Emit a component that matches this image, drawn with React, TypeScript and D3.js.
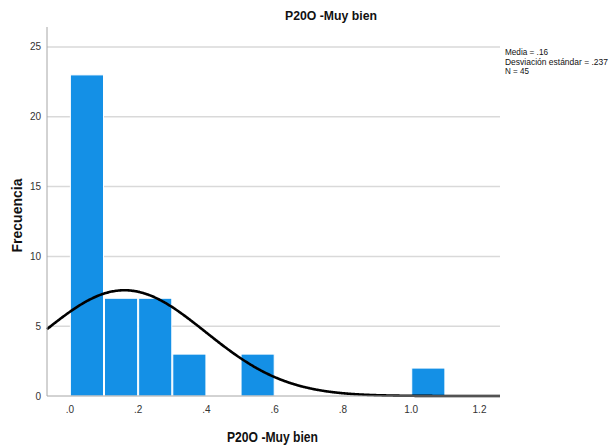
import React from "react";
import * as d3 from "d3";

const binStarts = [0.0, 0.1, 0.2, 0.3, 0.5, 1.0];
const binCounts = [23, 7, 7, 3, 3, 2];
const binWidth = 0.1;
const yTicks = [0, 5, 10, 15, 20, 25];
const xTicks = [0, 0.2, 0.4, 0.6, 0.8, 1.0, 1.2];
const xTickLabels = [".0", ".2", ".4", ".6", ".8", "1.0", "1.2"];
const statsLines = ["Media = .16", "Desviación estándar = .237", "N = 45"];
const statsWidths = [43, 103, 24];
const mean = 0.16;
const sd = 0.237;
const n = 45;

export default function App() {
  const W = 616, H = 447;
  const left = 47, right = 500, top = 27, bottom = 396;
  const x = d3.scaleLinear().domain([-0.067, 1.26]).range([left, right]);
  const y = d3.scaleLinear().domain([0, 26.43]).range([bottom, top]);
  const font = "Arial, 'Liberation Sans', sans-serif";

  const pdf = (v: number) =>
    (n * binWidth) / (sd * Math.sqrt(2 * Math.PI)) * Math.exp(-0.5 * ((v - mean) / sd) ** 2);
  const pts = d3.range(0, 401).map((i) => {
    const v = -0.067 + (i / 400) * (1.26 + 0.067);
    return [v, pdf(v)] as [number, number];
  });
  const line = d3.line<[number, number]>().x((d) => x(d[0])).y((d) => y(d[1])).curve(d3.curveBasis);

  return (
    <div style={{ position: "absolute", left: 0, top: 0 }}>
      <svg width={W} height={H} style={{ display: "block", background: "#fff" }}>
        {yTicks.filter((t) => t > 0).map((t) => (
          <line key={t} x1={left} x2={right} y1={y(t)} y2={y(t)} stroke="#d9d9d9" strokeWidth={1.5} />
        ))}
        {binStarts.map((s, i) => (
          <rect
            key={i}
            x={x(s) + 0.5}
            y={y(binCounts[i])}
            width={x(s + binWidth) - x(s) - 1}
            height={bottom - y(binCounts[i])}
            fill="#1490e6"
            stroke="#ffffff"
            strokeWidth={1}
          />
        ))}
        <path d={line(pts) || ""} fill="none" stroke="#000" strokeWidth={2.6} />
        <line x1={left} x2={left} y1={top} y2={bottom} stroke="#a6a6a6" strokeWidth={1} />
        <line x1={left} x2={right} y1={bottom} y2={bottom} stroke="#a6a6a6" strokeWidth={1} />
        {yTicks.map((t) => (
          <text key={t} x={left - 6} y={y(t) + 3.5} textAnchor="end" fontSize={10} fontFamily={font} fill="#333">
            {t}
          </text>
        ))}
        {xTicks.map((t, i) => (
          <text key={t} x={x(t)} y={413} textAnchor="middle" fontSize={10} fontFamily={font} fill="#333">
            {xTickLabels[i]}
          </text>
        ))}
        <text x={285} y={20} fontSize={13} fontWeight="bold" fontFamily={font} fill="#111"
          textLength={92} lengthAdjust="spacingAndGlyphs">
          P20O -Muy bien
        </text>
        <text x={227} y={442} fontSize={14} fontWeight="bold" fontFamily={font} fill="#111"
          textLength={91} lengthAdjust="spacingAndGlyphs">
          P20O -Muy bien
        </text>
        <text
          transform={`translate(22, ${(top + bottom) / 2 + 4}) rotate(-90)`}
          textAnchor="middle"
          fontSize={14}
          fontWeight="bold"
          fontFamily={font}
          fill="#111"
        >
          Frecuencia
        </text>
        {statsLines.map((s, i) => (
          <text key={i} x={505} y={55 + i * 9.5} fontSize={8.6} fontFamily={font} fill="#111"
            textLength={statsWidths[i]} lengthAdjust="spacingAndGlyphs">
            {s}
          </text>
        ))}
      </svg>
    </div>
  );
}
